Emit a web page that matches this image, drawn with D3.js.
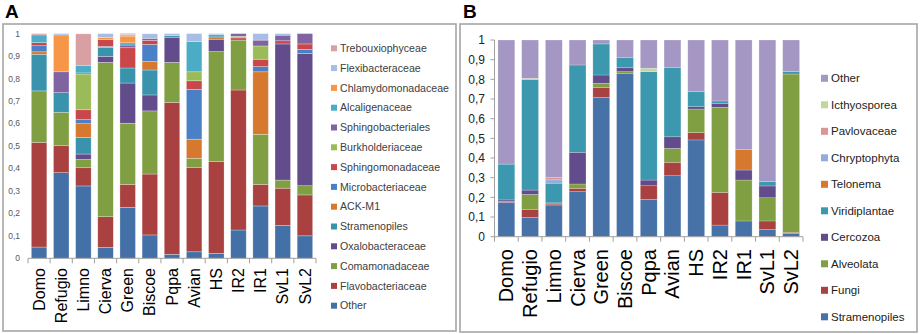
<!DOCTYPE html>
<html><head><meta charset="utf-8">
<script src="https://cdn.jsdelivr.net/npm/d3@7"></script>
<style>
html,body{margin:0;padding:0;background:#fff;}
svg{display:block;font-family:"Liberation Sans",Arial,sans-serif;}
</style></head>
<body><svg id="c" width="921" height="334"></svg>
<script>
const samples = ["Domo","Refugio","Limno","Cierva","Green","Biscoe","Pqpa","Avian","HS","IR2","IR1","SvL1","SvL2"];
const yTicks = [0,0.1,0.2,0.3,0.4,0.5,0.6,0.7,0.8,0.9,1];

// Panel A (bacterial families), bottom -> top
const seriesA = ["Other","Flavobacteriaceae","Comamonadaceae","Oxalobacteraceae","Stramenopiles","ACK-M1","Microbacteriaceae","Sphingomonadaceae","Burkholderiaceae","Sphingobacteriales","Alcaligenaceae","Chlamydomonadaceae","Flexibacteraceae","Trebouxiophyceae"];
const aOther      = [0.050,0.381,0.322,0.049,0.227,0.104,0.018,0.029,0.022,0.126,0.233,0.146,0.100];
const aFlavo      = [0.466,0.120,0.081,0.136,0.102,0.271,0.676,0.376,0.408,0.623,0.096,0.166,0.182];
const aComa       = [0.229,0.149,0.037,0.687,0.272,0.281,0.178,0.040,0.490,0.222,0.223,0.036,0.041];
const aOxalo      = [0,0,0.024,0.027,0.179,0.071,0.112,0,0.055,0,0,0.606,0.589];
const aStrameno   = [0.163,0.087,0.074,0.040,0.067,0.111,0.008,0,0,0,0,0,0];
const aACK        = [0.011,0,0.061,0,0,0.038,0,0.085,0.010,0,0.278,0,0];
const aMicro      = [0.027,0,0.018,0.004,0,0.076,0,0.222,0,0,0.023,0,0.018];
const aSphingomon = [0.014,0,0.044,0.030,0.090,0.018,0,0.038,0,0.010,0.033,0.014,0.024];
const aBurk       = [0,0,0.159,0,0,0,0,0.040,0,0.007,0.059,0,0];
const aSphingobac = [0,0.093,0.005,0,0.012,0.009,0,0,0,0.012,0.026,0.025,0.046];
const aAlcalig    = [0.034,0,0.034,0,0.010,0,0,0.134,0.010,0,0,0,0];
const aChlamy     = [0,0.164,0,0.010,0.030,0,0,0,0,0,0,0,0];
const aFlex       = [0,0.006,0,0.017,0.007,0.020,0.008,0.036,0.005,0,0.029,0.007,0];
const aTreboux    = [0.006,0,0.140,0,0.005,0,0,0,0,0,0,0,0];
const valuesA = [aOther,aFlavo,aComa,aOxalo,aStrameno,aACK,aMicro,aSphingomon,aBurk,aSphingobac,aAlcalig,aChlamy,aFlex,aTreboux];
const colorsA = ["#4470a8","#a8413f","#7f9f42","#634c8c","#3a93ac","#d6792f","#4a80c6","#c9474a","#9bbb59","#8064a2","#4bacc6","#f79646","#a7bde3","#d9a0a4"];

// Panel B (eukaryotic groups), bottom -> top
const seriesB = ["Stramenopiles","Fungi","Alveolata","Cercozoa","Viridiplantae","Telonema","Chryptophyta","Pavlovaceae","Icthyosporea","Other"];
const bStram  = [0.175,0.098,0.161,0.229,0.708,0.831,0.190,0.310,0.492,0.059,0.080,0.037,0.017];
const bFungi  = [0.005,0.041,0.005,0.017,0.051,0,0.069,0.068,0.037,0.166,0,0.043,0.005];
const bAlveo  = [0,0.076,0.006,0.022,0.021,0.008,0,0.071,0.120,0.433,0.208,0.118,0.805];
const bCerco  = [0.007,0.022,0,0.161,0.042,0.020,0.029,0.059,0.012,0.020,0.051,0.060,0];
const bViridi = [0.182,0.563,0.100,0.444,0.158,0.053,0.551,0.351,0.076,0.012,0,0.022,0.012];
const bTelo   = [0,0,0,0,0,0,0,0,0,0,0.105,0,0];
const bChrypt = [0,0,0.017,0,0,0,0,0,0,0,0,0,0];
const bPavlo  = [0,0,0.012,0,0,0,0,0,0,0,0,0,0];
const bIcthyo = [0,0.005,0,0,0,0,0.017,0,0,0,0,0,0];
const bOther  = [0.631,0.195,0.699,0.127,0.020,0.088,0.144,0.141,0.263,0.310,0.556,0.720,0.161];
const valuesB = [bStram,bFungi,bAlveo,bCerco,bViridi,bTelo,bChrypt,bPavlo,bIcthyo,bOther];
const colorsB = ["#4672a8","#a8413f","#7f9f42","#634c8c","#3c98ae","#d6792f","#94acd8","#d99694","#c3d69b","#a597c3"];

const svg = d3.select("#c");
const fmt = d => d===0 ? "0" : d===1 ? "1" : d.toFixed(1).replace(".",",");

function panel(cfg){
  const g = svg.append("g");
  // frame
  g.append("rect").attr("x",cfg.frame[0]).attr("y",cfg.frame[1])
    .attr("width",cfg.frame[2]-cfg.frame[0]).attr("height",cfg.frame[3]-cfg.frame[1])
    .attr("fill","none").attr("stroke","#a6a6a6").attr("stroke-width",1.6);
  // panel letter
  svg.append("text").attr("x",cfg.letterX).attr("y",18).attr("font-size",19).attr("font-weight","bold")
    .attr("fill","#000").text(cfg.letter);

  const x = d3.scaleBand().domain(samples).range(cfg.xr).paddingInner(cfg.pad).paddingOuter(cfg.pad/2);
  const y = d3.scaleLinear().domain([0,1]).range(cfg.yr);

  const rows = samples.map((s,i)=>{ const o={sample:s}; cfg.series.forEach((k,j)=>o[k]=cfg.values[j][i]); return o; });
  const stacked = d3.stack().keys(cfg.series)(rows);

  g.selectAll("g.s").data(stacked).join("g").attr("fill",(d,i)=>cfg.colors[i])
    .selectAll("rect").data(d=>d).join("rect")
    .attr("x",d=>x(d.data.sample)).attr("width",x.bandwidth())
    .attr("y",d=>y(d[1])).attr("height",d=>Math.max(0,y(d[0])-y(d[1])))
    .attr("stroke",cfg.barStroke).attr("stroke-width",0.6);

  // y tick labels
  const yl = g.append("g");
  yl.selectAll("text").data(yTicks).join("text")
    .attr("x",cfg.yLabelX).attr("y",d=>y(d)).attr("dy","0.35em").attr("text-anchor","end")
    .attr("font-size",cfg.yFont).attr("fill",cfg.yColor).text(fmt);
  if(cfg.yAxisLine){
    yl.append("line").attr("x1",cfg.xr[0]).attr("x2",cfg.xr[0]).attr("y1",y(0)).attr("y2",y(1)).attr("stroke","#a0a0a0");
    yl.selectAll("line.t").data(yTicks).join("line").attr("class","t")
      .attr("x1",cfg.xr[0]-4).attr("x2",cfg.xr[0]).attr("y1",d=>y(d)).attr("y2",d=>y(d)).attr("stroke","#a0a0a0");
  }
  // x axis line + boundary ticks
  const xa = g.append("g");
  xa.append("line").attr("x1",cfg.xr[0]).attr("x2",cfg.xr[1]).attr("y1",y(0)).attr("y2",y(0)).attr("stroke","#a0a0a0");
  const bounds = samples.map(s=>x(s)-x.step()*x.paddingInner()/2).concat([cfg.xr[1]]);
  xa.selectAll("line.b").data(bounds).join("line").attr("class","b")
    .attr("x1",d=>d).attr("x2",d=>d).attr("y1",y(0)).attr("y2",y(0)+5).attr("stroke","#a0a0a0");
  xa.selectAll("text").data(samples).join("text")
    .attr("transform",d=>`translate(${x(d)+x.bandwidth()/2},${cfg.xLabelY}) rotate(-90)`)
    .attr("dy","0.35em").attr("text-anchor","end").attr("font-size",cfg.xFont).attr("fill","#000").text(d=>d);

  // legend (top entry = last series)
  const leg = g.append("g");
  const items = cfg.series.map((s,i)=>({s,c:cfg.colors[i]})).reverse();
  items.forEach((it,i)=>{
    const cy = cfg.legY0 + i*cfg.legStep;
    leg.append("rect").attr("x",cfg.legX).attr("y",cy-cfg.legSq/2).attr("width",cfg.legSq).attr("height",cfg.legSq).attr("fill",it.c);
    leg.append("text").attr("x",cfg.legX+cfg.legSq+3).attr("y",cy).attr("dy","0.35em")
      .attr("font-size",cfg.legFont).attr("fill",cfg.legColor).text(it.s);
  });
}

panel({letter:"A",letterX:5,frame:[3,24,456,331],xr:[28,316],pad:0.3,yr:[258.3,33.6],
  series:seriesA,values:valuesA,colors:colorsA,barStroke:"rgba(255,255,255,0.45)",
  yLabelX:20,yFont:8.5,yColor:"#595959",yAxisLine:false,xLabelY:268,xFont:16,
  legX:331,legY0:48.3,legStep:19.8,legSq:6,legFont:10.6,legColor:"#404040"});

panel({letter:"B",letterX:463,frame:[460,24,917,332],xr:[494.5,803],pad:0.29,yr:[236.7,40],
  series:seriesB,values:valuesB,colors:colorsB,barStroke:"rgba(255,255,255,0.35)",
  yLabelX:485,yFont:12,yColor:"#222",yAxisLine:true,xLabelY:249,xFont:20,
  legX:821,legY0:78.3,legStep:26.5,legSq:7,legFont:11.5,legColor:"#222"});
</script></body></html>
